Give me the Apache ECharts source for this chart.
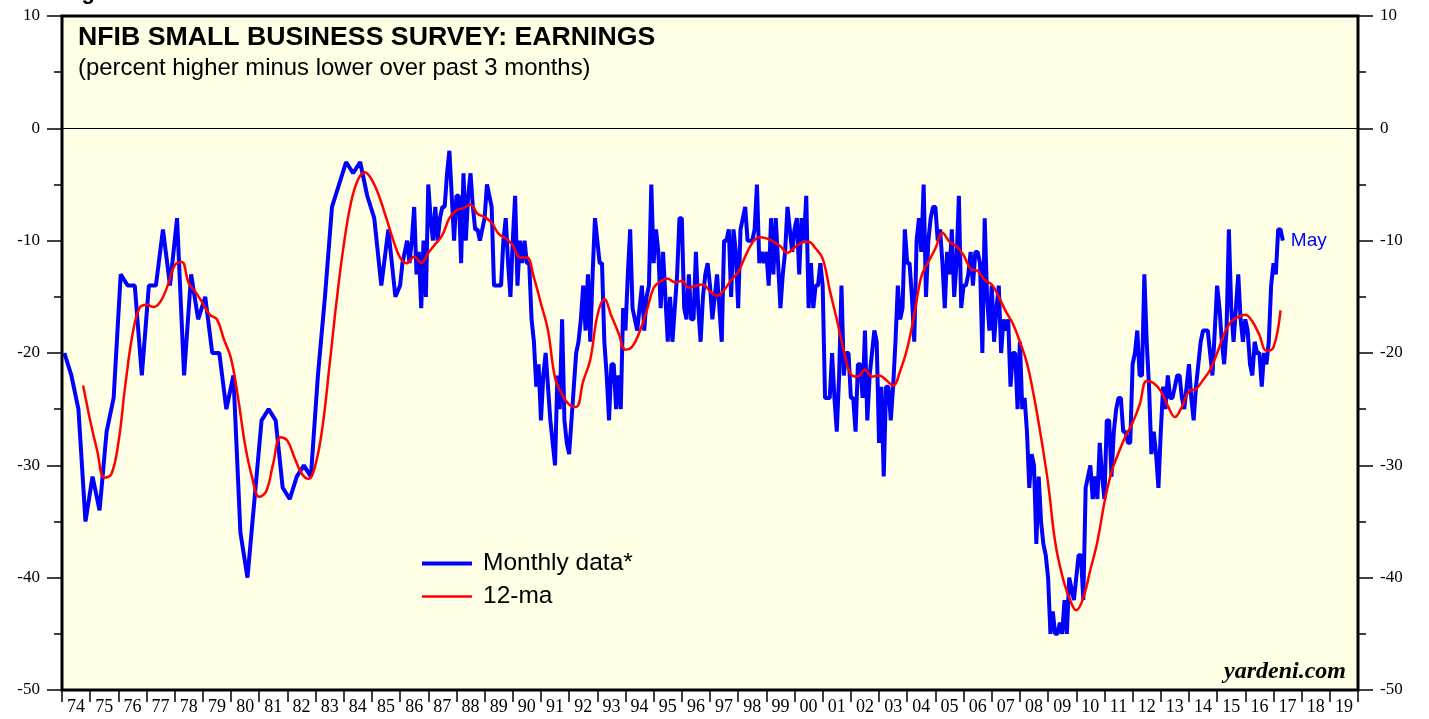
<!DOCTYPE html>
<html>
<head>
<meta charset="utf-8">
<title>NFIB Small Business Survey: Earnings</title>
<script src="https://cdn.jsdelivr.net/npm/echarts@6.0.0/dist/echarts.min.js"></script>
<style>
  html, body { margin: 0; padding: 0; background: #fff; }
  #main { width: 1429px; height: 719px; }
</style>
</head>
<body>
<div id="main"></div>
<script>
// year labels on the bottom axis, 1974 - 2019
var yearLabels = ['74','75','76','77','78','79','80','81','82','83','84','85','86','87','88','89',
  '90','91','92','93','94','95','96','97','98','99','00','01','02','03','04','05','06','07','08','09',
  '10','11','12','13','14','15','16','17','18','19'];

// 1974-1985: survey was quarterly (Feb, May, Aug, Nov)
var quarterlyEarnings = [
  -20, -22, -25, -35, -31, -34, -27, -24,
  -13, -14, -14, -22, -14, -14, -9, -14,
  -8, -22, -13, -17, -15, -20, -20, -25,
  -22, -36, -40, -33, -26, -25, -26, -32,
  -33, -31, -30, -31, -22, -15, -7, -5,
  -3, -4, -3, -6, -8, -14, -9, -15
];

// monthly, Jan 1986 - May 2017
var monthlyEarnings = [
  -14, -12, -11, -10, -12, -10, -7, -13, -11, -16, -10, -15,  // 86
  -5, -8, -10, -7, -10, -8, -7, -7, -4, -2, -6, -10,          // 87
  -6, -6, -12, -4, -10, -6, -4, -7, -9, -9, -10, -9,          // 88
  -8, -5, -6, -7, -14, -14, -14, -14, -10, -8, -12, -15,      // 89
  -10, -6, -14, -10, -12, -10, -12, -12, -17, -19, -23, -21,  // 90
  -26, -22, -20, -23, -26, -28, -30, -22, -25, -17, -26, -28, // 91
  -29, -26, -23, -20, -19, -17, -14, -18, -13, -19, -13, -8,  // 92
  -10, -12, -12, -19, -22, -26, -21, -21, -25, -22, -25, -16, // 93
  -18, -13, -9, -16, -17, -18, -16, -14, -18, -15, -14, -5,   // 94
  -12, -9, -11, -16, -11, -15, -19, -15, -19, -16, -13, -8,   // 95
  -8, -16, -17, -13, -17, -17, -11, -16, -19, -15, -13, -12,  // 96
  -14, -17, -15, -13, -16, -19, -10, -10, -9, -15, -9, -11,   // 97
  -16, -9, -8, -7, -10, -10, -10, -9, -5, -12, -11, -12,      // 98
  -11, -14, -8, -13, -8, -12, -16, -13, -11, -7, -9, -11,     // 99
  -9, -8, -13, -8, -10, -6, -16, -12, -16, -14, -14, -12,     // 00
  -14, -24, -24, -24, -20, -24, -27, -22, -14, -22, -20, -20, // 01
  -24, -24, -27, -21, -21, -24, -18, -26, -22, -20, -18, -19, // 02
  -28, -23, -31, -23, -23, -26, -23, -19, -14, -17, -16, -9,  // 03
  -12, -12, -15, -19, -10, -8, -11, -5, -15, -10, -8, -7,     // 04
  -7, -10, -9, -12, -16, -11, -13, -9, -15, -12, -6, -16,     // 05
  -14, -14, -13, -11, -14, -11, -11, -12, -20, -8, -15, -18,  // 06
  -14, -19, -16, -14, -20, -17, -18, -17, -23, -20, -20, -25, // 07
  -19, -25, -24, -27, -32, -29, -30, -37, -31, -35, -37, -38, // 08
  -40, -45, -43, -45, -45, -44, -45, -42, -45, -40, -41, -42, // 09
  -40, -38, -38, -42, -32, -31, -30, -33, -31, -33, -28, -31, // 10
  -33, -26, -26, -31, -27, -25, -24, -24, -27, -27, -28, -28, // 11
  -21, -20, -18, -22, -22, -13, -19, -23, -29, -27, -29, -32, // 12
  -27, -23, -25, -22, -24, -24, -23, -22, -22, -24, -25, -23, // 13
  -21, -24, -26, -23, -21, -19, -18, -18, -18, -20, -22, -18, // 14
  -14, -16, -19, -21, -18, -9, -16, -19, -16, -13, -17, -19,  // 15
  -17, -18, -21, -22, -19, -20, -20, -23, -20, -21, -19, -14, // 16
  -12, -13, -9, -9, -10                                       // 17
];

// 12-month average, read every 3 months from Oct 1974
var ma12 = [
  -22.9, -26.0, -28.7, -31.1, -30.8, -28.0, -22.8, -18.4, -16.0, -15.7,
  -15.9, -15.4, -14.0, -12.2, -11.9, -13.8, -14.6, -15.6, -16.6, -17.0,
  -18.8, -20.5, -24.0, -28.2, -31.1, -32.8, -32.3, -29.8, -27.5, -27.8,
  -29.3, -30.7, -31.2, -29.9, -26.5, -21.0, -15.3, -10.4, -6.7, -4.6,
  -3.9, -4.6, -6.0, -7.9, -9.9, -11.5, -12.0, -11.4, -12.0, -11.1,
  -10.3, -9.5, -8.0, -7.3, -7.1, -6.8, -7.6, -7.9, -8.4, -9.4,
  -9.8, -10.4, -11.5, -11.5, -13.3, -15.6, -18.0, -22.2, -23.7, -24.6,
  -24.8, -22.5, -20.6, -16.7, -15.2, -16.7, -18.2, -19.7, -19.4, -18.1,
  -16.3, -14.2, -13.6, -13.4, -13.7, -13.6, -14.2, -14.0, -13.9, -14.5,
  -14.9, -14.4, -13.5, -12.8, -11.4, -10.2, -9.7, -9.8, -10.1, -10.5,
  -11.1, -10.6, -10.2, -10.1, -10.7, -11.6, -14.4, -17.0, -19.8, -21.9,
  -22.1, -21.5, -22.1, -22.0, -22.4, -22.9, -21.6, -19.6, -16.6, -13.2,
  -11.9, -10.7, -9.3, -10.1, -10.5, -11.3, -12.5, -12.7, -13.5, -13.9,
  -15.0, -16.3, -17.4, -19.0, -20.9, -23.9, -27.5, -31.6, -36.8, -39.8,
  -41.8, -42.9, -41.8, -39.3, -36.8, -33.3, -30.6, -28.9, -27.4, -26.2,
  -24.6, -22.5, -22.7, -23.4, -24.7, -25.7, -24.8, -23.4, -23.2, -22.4,
  -21.5, -20.0, -18.3, -17.2, -16.8, -16.6, -17.2, -18.4, -19.8, -19.5,
  -16.2
];

// x positions are months counted from Jan 1974
var firstMonthly = 144;
var blueData = [];
for (var i = 0; i < quarterlyEarnings.length; i++) {
  blueData.push([1 + i * 3, quarterlyEarnings[i]]);
}
for (var j = 0; j < monthlyEarnings.length; j++) {
  blueData.push([firstMonthly + j, monthlyEarnings[j]]);
}
var redData = [];
for (var k = 0; k < ma12.length; k++) {
  redData.push([9 + k * 3, ma12[k]]);
}

var serif = 'Liberation Serif';
var sans = 'Liberation Sans';

function valueAxis(pos) {
  return {
    type: 'value',
    position: pos,
    min: -50,
    max: 10,
    interval: 10,
    axisLine: { show: false },
    axisTick: { show: true, length: 15, lineStyle: { color: '#000', width: 1.5 } },
    minorTick: { show: true, splitNumber: 2, length: 8, lineStyle: { color: '#000', width: 1.5 } },
    axisLabel: { color: '#000', fontFamily: serif, fontSize: 17, margin: 22 },
    splitLine: { show: false },
    minorSplitLine: { show: false }
  };
}

var myChart = echarts.init(document.getElementById('main'));
var option = {
  animation: false,
  backgroundColor: '#fff',
  title: {
    text: 'NFIB SMALL BUSINESS SURVEY: EARNINGS',
    subtext: '(percent higher minus lower over past 3 months)',
    left: 73,
    top: 19,
    itemGap: 5,
    textStyle: { fontFamily: sans, fontWeight: 'bold', fontSize: 26.7, color: '#000' },
    subtextStyle: { fontFamily: sans, fontSize: 23.9, color: '#000' }
  },
  legend: {
    orient: 'vertical',
    left: 420,
    top: 551,
    padding: 0,
    itemWidth: 50,
    itemHeight: 14,
    itemGap: 8,
    // hide the marker dot, keep only the line sample
    itemStyle: { opacity: 0 },
    textStyle: { fontFamily: sans, fontSize: 24.5, color: '#000', padding: [0, 0, 0, 6] },
    data: [
      { name: 'Monthly data*', lineStyle: { width: 4 } },
      { name: '12-ma', lineStyle: { width: 2.5 } }
    ]
  },
  grid: {
    left: 62, top: 16, width: 1296, height: 674,
    show: true, backgroundColor: '#FFFFE5', borderColor: '#000', borderWidth: 3
  },
  xAxis: [
    {
      type: 'category',
      data: yearLabels,
      boundaryGap: true,
      position: 'bottom',
      axisLine: { show: false, onZero: false },
      axisTick: { show: true, interval: 0, length: 12, lineStyle: { color: '#000', width: 1.5 } },
      axisLabel: { interval: 0, color: '#000', fontFamily: serif, fontSize: 18, margin: 8 },
      splitLine: { show: false }
    },
    { type: 'value', min: 0, max: 552, show: false }
  ],
  yAxis: [valueAxis('left'), valueAxis('right')],
  graphic: [
    {
      type: 'text', right: 83, top: 660,
      style: { text: 'yardeni.com', font: 'italic bold 24px "Liberation Serif"', fill: '#000' }
    },
    {
      type: 'text', left: 62, top: -18,
      style: { text: 'Figure 5.', font: 'bold 22px "Liberation Sans"', fill: '#000' }
    }
  ],
  series: [
    {
      name: 'Monthly data*',
      type: 'line',
      xAxisIndex: 1,
      yAxisIndex: 0,
      data: blueData,
      symbol: 'none',
      lineStyle: { color: '#0000FF', width: 4 },
      itemStyle: { color: '#0000FF' },
      endLabel: { show: true, formatter: 'May', color: '#0000FF', fontFamily: sans, fontSize: 19, distance: 8 },
      markLine: {
        silent: true,
        symbol: 'none',
        label: { show: false },
        lineStyle: { color: '#000', width: 1, type: 'solid' },
        data: [{ yAxis: 0 }]
      },
      z: 2
    },
    {
      name: '12-ma',
      type: 'line',
      xAxisIndex: 1,
      yAxisIndex: 0,
      data: redData,
      smooth: 0.4,
      symbol: 'none',
      lineStyle: { color: '#FF0000', width: 2.5 },
      itemStyle: { color: '#FF0000' },
      z: 3
    }
  ]
};

myChart.setOption(option);
</script>
</body>
</html>
